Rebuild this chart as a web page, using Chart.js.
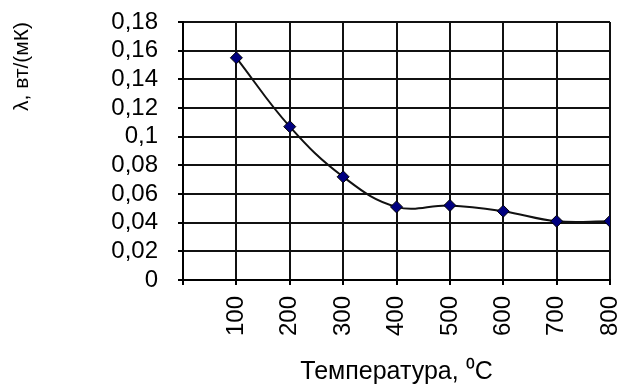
<!DOCTYPE html>
<html>
<head>
<meta charset="utf-8">
<style>
  html, body { margin: 0; padding: 0; background: #fff; }
</style>
</head>
<body>
<canvas id="lambdaChart" width="620" height="389"></canvas>
<script src="https://cdn.jsdelivr.net/npm/chart.js"></script>
<script>
    // температура, °C
    const temperatures = [100, 200, 300, 400, 500, 600, 700, 800];
    // теплопроводность, Вт/(мК)
    const lambdaValues = [0.155, 0.107, 0.072, 0.051, 0.052, 0.048, 0.041, 0.041];
    const yTicks = [0, 0.02, 0.04, 0.06, 0.08, 0.1, 0.12, 0.14, 0.16, 0.18];
    const xTitle = 'Температура, ⁰C';
    const yTitle = 'λ, вт/(мК)';

    const points = temperatures.map((t, i) => ({ x: t, y: lambdaValues[i] }));
    const font = "'Liberation Sans', Arial, sans-serif";

    var ctx = document.getElementById('lambdaChart');
    var lambdaChart = new Chart(ctx, {
        type: 'line',
        data: {
            datasets: [{
                data: points,
                borderColor: '#111',
                borderWidth: 2,
                tension: 0.4,
                pointStyle: 'rectRot',
                pointRadius: 6,
                pointBackgroundColor: '#000080',
                pointBorderColor: '#000',
                pointBorderWidth: 1
            }]
        },
        options: {
            responsive: false,
            animation: false,
            layout: { padding: { top: 22, right: 10, left: 0, bottom: 0 } },
            plugins: {
                legend: { display: false },
                tooltip: { enabled: false }
            },
            scales: {
                x: {
                    type: 'linear',
                    min: 0,
                    max: 800,
                    afterBuildTicks: axis => {
                        axis.ticks = [0].concat(temperatures).map(v => ({ value: v }));
                    },
                    afterFit: axis => {
                        axis.height = 109;
                        axis.paddingLeft = 0;
                        axis.paddingRight = 0;
                    },
                    grid: { color: '#111', lineWidth: 2, tickLength: 5, tickColor: '#000' },
                    border: { color: '#000', width: 2 },
                    ticks: {
                        autoSkip: false,
                        minRotation: 90,
                        maxRotation: 90,
                        padding: 11,
                        color: '#000',
                        font: { family: font, size: 24 },
                        callback: v => v === 0 ? '' : String(v)
                    },
                    title: {
                        display: true,
                        text: xTitle,
                        color: '#000',
                        font: { family: font, size: 25 },
                        padding: { top: 4, bottom: 2 }
                    }
                },
                y: {
                    min: 0,
                    max: 0.18,
                    afterBuildTicks: axis => {
                        axis.ticks = yTicks.map(v => ({ value: v }));
                    },
                    afterFit: axis => {
                        axis.width = 183;
                        axis.paddingTop = 0;
                        axis.paddingBottom = 0;
                    },
                    grid: { color: '#111', lineWidth: 2, tickLength: 5, tickColor: '#000' },
                    border: { color: '#000', width: 2 },
                    ticks: {
                        autoSkip: false,
                        padding: 20,
                        color: '#000',
                        font: { family: font, size: 24 },
                        callback: v => String(Number(v.toFixed(2))).replace('.', ',')
                    },
                    title: {
                        display: true,
                        text: yTitle,
                        align: 'end',
                        color: '#000',
                        font: { family: font, size: 21 },
                        padding: { top: 10, bottom: 0 }
                    }
                }
            }
        }
    });
</script>
</body>
</html>
